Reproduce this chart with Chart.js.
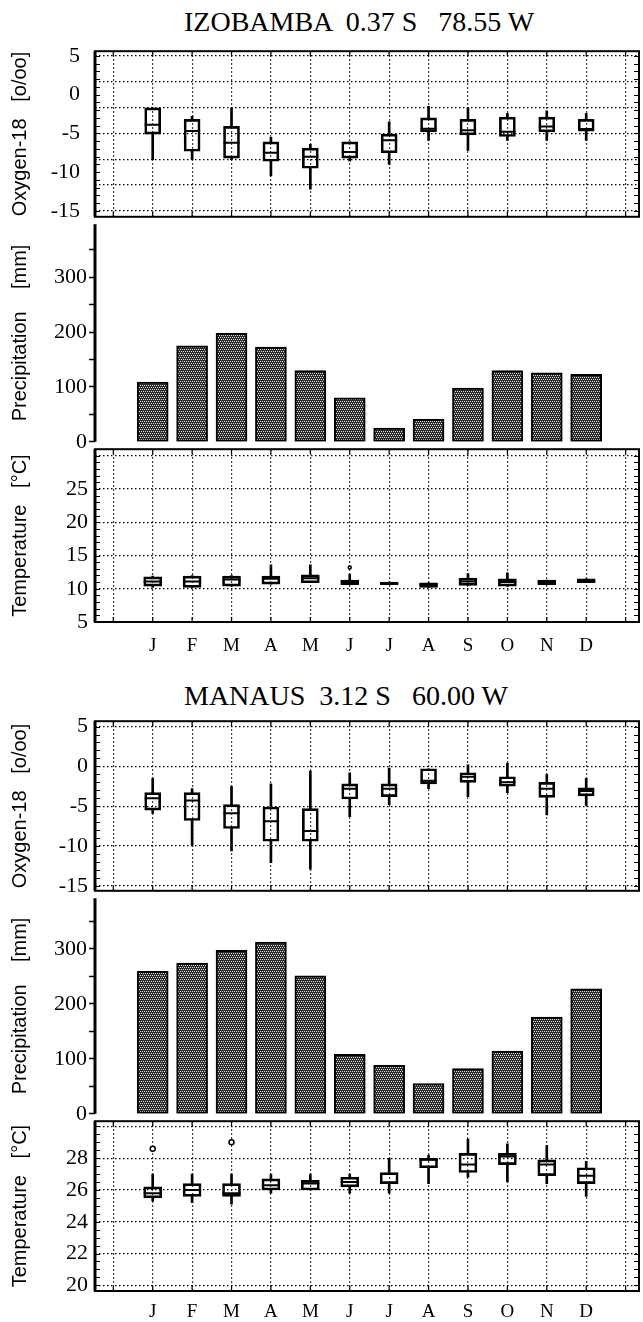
<!DOCTYPE html>
<html>
<head>
<meta charset="utf-8">
<script src="https://cdn.jsdelivr.net/npm/chart.js@4.4.1/dist/chart.umd.min.js"></script>
<style>
  body { margin: 0; background: #fff; }
  #page { position: relative; width: 643px; height: 1322px; overflow: hidden; }
  #page canvas { position: absolute; left: 0; }
  .station {
    position: absolute;
    font-family: "Liberation Serif", "Times New Roman", serif;
    font-size: 28px;
    line-height: 1;
    white-space: pre;
    color: #000;
  }
</style>
</head>
<body>
<div id="page">
  <div class="station" style="left:184px; top:8px">IZOBAMBA  0.37 S   78.55 W</div>
  <div class="station" style="left:184px; top:682px">MANAUS  3.12 S   60.00 W</div>
</div>
<script>
const months = ['J', 'F', 'M', 'A', 'M', 'J', 'J', 'A', 'S', 'O', 'N', 'D'];

// Izobamba: oxygen-18 box plots (whisker low, quartiles, median, whisker high)
const izoO18Low = [-8.4, -8.4, -8.4, -10.5, -12.2, -8.6, -9.0, -5.9, -7.2, -5.9, -5.9, -5.9];
const izoO18Q1  = [-5.1, -7.3, -8.2, -8.6, -9.5, -8.2, -7.5, -4.8, -5.2, -5.4, -4.8, -4.6];
const izoO18Med = [-3.9, -4.7, -6.2, -7.5, -8.0, -7.4, -5.9, -4.4, -4.6, -4.8, -4.1, -4.6];
const izoO18Q3  = [-1.7, -3.2, -4.1, -6.1, -6.9, -6.1, -5.1, -3.0, -3.2, -2.9, -2.9, -3.2];
const izoO18High = [-1.7, -2.8, -1.7, -5.5, -6.4, -6.1, -3.5, -1.5, -1.7, -2.4, -2.1, -2.4];

// Izobamba: monthly precipitation (mm)
const izoPrecip = [109, 175, 198, 173, 130, 80, 25, 41, 98, 130, 126, 123];

// Izobamba: temperature box plots
const izoTempLow  = [10.2, 10.2, 10.4, 10.7, 10.9, 10.6, 10.6, 10.2, 10.5, 10.4, 10.6, 10.9];
const izoTempQ1   = [10.4, 10.2, 10.4, 10.7, 10.9, 10.6, 10.6, 10.2, 10.5, 10.4, 10.6, 10.9];
const izoTempMed  = [11.1, 11.1, 11.4, 11.5, 11.6, 11.0, 10.8, 10.6, 11.1, 11.0, 11.0, 11.2];
const izoTempQ3   = [11.8, 11.9, 11.9, 11.9, 12.1, 11.3, 11.0, 10.9, 11.6, 11.5, 11.3, 11.5];
const izoTempHigh = [11.9, 12.0, 12.0, 13.6, 13.6, 12.2, 11.0, 10.9, 12.3, 12.4, 11.3, 11.5];
const izoTempOutMonth = [6];
const izoTempOutValue = [13.2];

// Manaus: oxygen-18 box plots
const manO18Low  = [-5.9, -10.0, -10.6, -12.1, -12.9, -6.3, -4.8, -2.8, -3.8, -3.3, -6.1, -4.9];
const manO18Q1   = [-5.5, -6.8, -7.8, -9.4, -9.4, -4.1, -3.8, -2.2, -2.0, -2.5, -3.9, -3.7];
const manO18Med  = [-4.0, -4.3, -5.9, -6.9, -8.1, -2.8, -2.8, -1.8, -1.3, -2.0, -2.8, -3.1];
const manO18Q3   = [-3.3, -3.3, -4.8, -5.1, -5.3, -2.2, -2.2, -0.3, -0.8, -1.3, -2.0, -2.7];
const manO18High = [-1.5, -2.8, -2.5, -2.2, -0.6, -0.8, -0.2, -0.3, 0.2, 0.4, -1.0, -1.5];

// Manaus: monthly precipitation (mm)
const manPrecip = [259, 274, 297, 312, 251, 108, 88, 55, 82, 114, 176, 227];

// Manaus: temperature box plots
const manTempLow  = [25.3, 25.2, 25.1, 25.8, 26.0, 25.8, 25.8, 26.4, 26.8, 26.5, 26.4, 25.6];
const manTempQ1   = [25.5, 25.6, 25.6, 26.0, 26.0, 26.2, 26.4, 27.4, 27.1, 27.6, 26.9, 26.4];
const manTempMed  = [25.8, 26.0, 25.8, 26.3, 26.4, 26.5, 27.0, 27.9, 27.6, 28.1, 27.6, 26.9];
const manTempQ3   = [26.2, 26.4, 26.4, 26.7, 26.6, 26.8, 27.1, 28.0, 28.3, 28.3, 27.9, 27.4];
const manTempHigh = [27.0, 27.0, 27.0, 27.0, 27.0, 27.0, 28.0, 28.2, 29.2, 28.9, 28.8, 27.8];
const manTempOutMonth = [1, 3];
const manTempOutValue = [28.6, 29.0];

const SERIF = '"Liberation Serif", "Times New Roman", serif';
const SANS = '"Liberation Sans", Arial, sans-serif';
const DOTS = [1.5, 2.5];

// vertical grid columns: one each side of the twelve months
const gridCols = Array.from({ length: 14 }, (_, i) => i);

// frame, thick left axis and small inward ticks for each panel
const panelFrame = {
  id: 'panelFrame',
  afterDraw(chart, args, opts) {
    const { ctx, chartArea: a, scales } = chart;
    ctx.save();
    ctx.strokeStyle = '#000';
    if (opts.box) {
      ctx.lineWidth = 2;
      ctx.strokeRect(a.left, a.top, a.right - a.left, a.bottom - a.top);
      const y = scales.y;
      ctx.lineWidth = 1.2;
      ctx.beginPath();
      for (let v = Math.ceil(y.min / opts.minor) * opts.minor; v <= y.max; v += opts.minor) {
        const p = Math.round(y.getPixelForValue(v)) + 0.5;
        ctx.moveTo(a.left, p); ctx.lineTo(a.left + 5, p);
        ctx.moveTo(a.right, p); ctx.lineTo(a.right - 5, p);
      }
      scales.x.ticks.forEach(t => {
        const p = scales.x.getPixelForValue(t.value);
        ctx.moveTo(p, a.top); ctx.lineTo(p, a.top + 5);
        ctx.moveTo(p, a.bottom); ctx.lineTo(p, a.bottom - 5);
      });
      ctx.stroke();
    }
    ctx.lineWidth = 3;
    ctx.beginPath();
    ctx.moveTo(a.left, a.top);
    ctx.lineTo(a.left, a.bottom);
    ctx.stroke();
    ctx.restore();
  }
};
Chart.register(panelFrame);

// stippled grey fill used for the rainfall bars (staggered light dots)
const stipple = (() => {
  const tile = document.createElement('canvas');
  tile.width = tile.height = 4;
  const g = tile.getContext('2d');
  g.fillStyle = '#2b2b2b';
  g.fillRect(0, 0, 4, 4);
  g.fillStyle = '#dedede';
  [[0, 0], [2, 0], [1, 2], [3, 2]].forEach(([x, y]) => g.fillRect(x, y, 1, 1));
  return g.createPattern(tile, 'repeat');
})();

function xAxis(p) {
  return {
    type: 'linear', min: -0.464, max: 13.34, offset: false,
    afterBuildTicks: s => { s.ticks = gridCols.map(v => ({ value: v })); },
    afterFit: s => { s.height = p.xLabels ? 30 : 0; },
    grid: { display: !!p.vgrid, offset: false, drawTicks: false, color: '#000', lineWidth: 1.2 },
    border: { display: false, dash: DOTS },
    ticks: {
      display: !!p.xLabels, autoSkip: false, maxRotation: 0, padding: p.labelPad || 12,
      color: '#000', font: { family: SERIF, size: 19 },
      callback: v => months[v - 1] || ''
    }
  };
}

function yAxis(min, max, step, title, extra = {}) {
  return {
    type: 'linear', position: 'left', min, max,
    afterFit: s => { s.width = 95; },
    ticks: {
      stepSize: step, includeBounds: false, padding: extra.pad || 7,
      color: '#000', font: { family: SERIF, size: 22 },
      callback: extra.label || (v => String(v))
    },
    grid: extra.grid || { color: '#000', lineWidth: 1.2, drawTicks: false },
    border: { display: false, dash: DOTS },
    title: {
      display: true, text: title, color: '#000',
      font: { family: SANS, size: 20 }, padding: { top: 8, bottom: 0 }
    }
  };
}

// grid-only axis on the right, for gridlines that differ from the labelled ticks
function gridAxis(min, max, values) {
  return {
    type: 'linear', position: 'right', min, max,
    afterFit: s => { s.width = 0; },
    afterBuildTicks: s => { s.ticks = values.map(v => ({ value: v })); },
    ticks: { display: false },
    grid: { color: '#000', lineWidth: 1.2, drawTicks: false },
    border: { display: false, dash: DOTS }
  };
}

function boxSets(low, q1, med, q3, high, width) {
  const pts = arr => arr.map((v, i) => ({ x: i + 1, y: v }));
  const span = (a, b) => a.map((v, i) => ({ x: i + 1, y: [v, b[i]] }));
  return [
    { type: 'scatter', data: pts(med), yAxisID: 'y', pointStyle: 'line', pointRadius: width / 2,
      borderColor: '#000', borderWidth: 2, order: 0 },
    { type: 'bar', data: span(q1, q3), yAxisID: 'y', grouped: false, barThickness: width, maxBarThickness: width,
      backgroundColor: 'rgba(0,0,0,0)', borderColor: '#000', borderWidth: 2, borderSkipped: false, order: 1 },
    { type: 'bar', data: span(low, q1), yAxisID: 'y', grouped: false, barThickness: 2, maxBarThickness: 2,
      backgroundColor: '#000', borderWidth: 0, order: 2 },
    { type: 'bar', data: span(q3, high), yAxisID: 'y', grouped: false, barThickness: 2, maxBarThickness: 2,
      backgroundColor: '#000', borderWidth: 0, order: 2 }
  ];
}

function outlierSet(monthsAt, values, radius) {
  return {
    type: 'scatter', yAxisID: 'y', order: 0,
    data: monthsAt.map((m, i) => ({ x: m, y: values[i] })),
    pointStyle: 'circle', pointRadius: radius,
    borderColor: '#000', borderWidth: 1.5, backgroundColor: '#fff'
  };
}

function precipSet(values) {
  return {
    type: 'bar', yAxisID: 'y',
    data: values.map((v, i) => ({ x: i + 1, y: v })),
    barThickness: 31, maxBarThickness: 31,
    backgroundColor: stipple, borderColor: '#000', borderWidth: 2, borderSkipped: false
  };
}

function makePanel(p) {
  const canvas = document.createElement('canvas');
  const padTop = 14;
  const padBottom = p.xLabels ? 44 : 14;
  canvas.width = 643;
  canvas.height = p.bottom - p.top + padTop + padBottom;
  canvas.style.top = (p.top - padTop) + 'px';
  document.getElementById('page').appendChild(canvas);
  const xh = p.xLabels ? 30 : 0;
  return new Chart(canvas, {
    type: 'bar',
    data: { datasets: p.datasets },
    options: {
      responsive: false,
      animation: false,
      events: [],
      layout: { autoPadding: false, padding: { top: padTop, bottom: padBottom - xh, left: 0, right: 4 } },
      plugins: { legend: { display: false }, tooltip: { enabled: false }, panelFrame: p.frame || {} },
      scales: Object.assign({ x: xAxis(p) }, p.scales)
    }
  });
}

const noTop = top => (v => v === top ? '' : String(v));
const hundreds = v => (v % 100 === 0 ? String(v) : '');
const rainTicks = { drawOnChartArea: false, drawTicks: true, tickLength: 6, tickWidth: 1.5, tickColor: '#000' };

// ---- IZOBAMBA ----
makePanel({
  top: 45, bottom: 223, vgrid: true, frame: { box: true, minor: 1 },
  scales: {
    y: yAxis(-15.76, 5.6, 5, 'Oxygen-18   [o/oo]', { grid: { display: false } }),
    yGrid: gridAxis(-15.76, 5.6, [5, 5 / 3, -5 / 3, -5, -25 / 3, -35 / 3, -15])
  },
  datasets: boxSets(izoO18Low, izoO18Q1, izoO18Med, izoO18Q3, izoO18High, 16)
});
makePanel({
  top: 223, bottom: 443,
  scales: { y: yAxis(0, 397, 50, 'Precipitation    [mm]', { label: hundreds, grid: rainTicks, pad: 2 }) },
  datasets: [precipSet(izoPrecip)]
});
makePanel({
  top: 443, bottom: 622, vgrid: true, xLabels: true, labelPad: 13, frame: { box: true, minor: 1 },
  scales: { y: yAxis(5, 31, 5, 'Temperature   [°C]', { label: noTop(30) }) },
  datasets: boxSets(izoTempLow, izoTempQ1, izoTempMed, izoTempQ3, izoTempHigh, 18)
    .concat([outlierSet(izoTempOutMonth, izoTempOutValue, 1.5)])
});

// ---- MANAUS ----
makePanel({
  top: 715, bottom: 897, vgrid: true, frame: { box: true, minor: 1 },
  scales: { y: yAxis(-15.62, 5.67, 5, 'Oxygen-18   [o/oo]') },
  datasets: boxSets(manO18Low, manO18Q1, manO18Med, manO18Q3, manO18High, 16)
});
makePanel({
  top: 897, bottom: 1115,
  scales: { y: yAxis(0, 392, 50, 'Precipitation    [mm]', { label: hundreds, grid: rainTicks, pad: 2 }) },
  datasets: [precipSet(manPrecip)]
});
makePanel({
  top: 1115, bottom: 1291, vgrid: true, xLabels: true, labelPad: 10, frame: { box: true, minor: 0.5 },
  scales: { y: yAxis(19.64, 30.33, 2, 'Temperature   [°C]', { label: noTop(30) }) },
  datasets: boxSets(manTempLow, manTempQ1, manTempMed, manTempQ3, manTempHigh, 18)
    .concat([outlierSet(manTempOutMonth, manTempOutValue, 2.5)])
});
</script>
</body>
</html>
